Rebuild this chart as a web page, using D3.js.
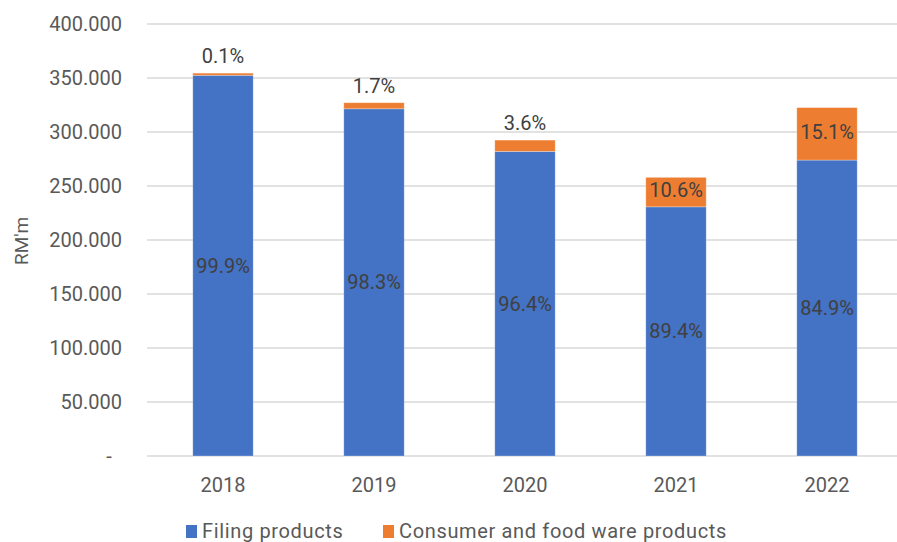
<!DOCTYPE html>
<html>
<head>
<meta charset="utf-8">
<script src="https://cdn.jsdelivr.net/npm/d3@7"></script>
<style>
  body { margin: 0; background: #fff; }
  text { font-family: Roboto, "Liberation Sans", Arial, sans-serif; }
</style>
</head>
<body>
<svg width="897" height="542"></svg>
<script>
// chart data
var years = ["2018", "2019", "2020", "2021", "2022"];
var filing = [352.5, 321.5, 282.0, 230.7, 274.0];
var consumer = [2.0, 5.6, 10.5, 27.3, 48.6];
var filingPct = ["99.9%", "98.3%", "96.4%", "89.4%", "84.9%"];
var consumerPct = ["0.1%", "1.7%", "3.6%", "10.6%", "15.1%"];
var yTicks = [0, 50, 100, 150, 200, 250, 300, 350, 400];
var seriesNames = ["Filing products", "Consumer and food ware products"];
var colors = ["#4472C4", "#ED7D31"];

var svg = d3.select("svg"),
    width = +svg.attr("width"),
    height = +svg.attr("height");

var x = d3.scaleBand()
    .domain(years)
    .range([147.5, 902.5])
    .paddingInner(0.6)
    .paddingOuter(0.3);

var y = d3.scaleLinear()
    .domain([0, 400])
    .range([456, 24]);

// gridlines
svg.append("g")
    .selectAll("line")
    .data(yTicks)
    .enter().append("line")
    .attr("x1", 147)
    .attr("x2", width)
    .attr("y1", function(d) { return y(d); })
    .attr("y2", function(d) { return y(d); })
    .attr("stroke", "#d9d9d9")
    .attr("stroke-width", 1.5);

// y tick labels
svg.append("g")
    .selectAll("text")
    .data(yTicks)
    .enter().append("text")
    .attr("x", function(d) { return d == 0 ? 109 : 122; })
    .attr("y", function(d) { return y(d); })
    .attr("dy", "0.35em")
    .attr("text-anchor", function(d) { return d == 0 ? "middle" : "end"; })
    .attr("fill", "#595959")
    .style("font-size", "20px")
    .text(function(d) { return d == 0 ? "-" : d3.format(".3f")(d); });

// y axis title
svg.append("text")
    .attr("transform", "translate(28,241) rotate(-90)")
    .attr("text-anchor", "middle")
    .attr("fill", "#595959")
    .style("font-size", "19px")
    .text("RM'm");

// stacked bars
var rows = years.map(function(yr, i) {
  return { year: yr, filing: filing[i], consumer: consumer[i] };
});
var stack = d3.stack().keys(["filing", "consumer"])(rows);

var layer = svg.append("g")
    .selectAll("g")
    .data(stack)
    .enter().append("g")
    .attr("fill", function(d, i) { return colors[i]; });

layer.selectAll("rect")
    .data(function(d) { return d; })
    .enter().append("rect")
    .attr("x", function(d) { return x(d.data.year); })
    .attr("width", x.bandwidth())
    .attr("y", function(d) { return y(d[1]); })
    .attr("height", function(d) { return y(d[0]) - y(d[1]); })
    .attr("stroke", "rgba(255,255,255,0.35)")
    .attr("stroke-width", 0.8);

// labels in the blue segments
svg.append("g")
    .selectAll("text")
    .data(stack[0])
    .enter().append("text")
    .attr("x", function(d) { return x(d.data.year) + x.bandwidth() / 2; })
    .attr("y", function(d) { return (y(d[0]) + y(d[1])) / 2; })
    .attr("dy", "0.35em")
    .attr("text-anchor", "middle")
    .attr("fill", "#404040")
    .style("font-size", "20px")
    .text(function(d, i) { return filingPct[i]; });

// labels for the orange segments: above the bar when the slice is too thin
svg.append("g")
    .selectAll("text")
    .data(stack[1])
    .enter().append("text")
    .attr("x", function(d) { return x(d.data.year) + x.bandwidth() / 2; })
    .attr("y", function(d) {
      var h = y(d[0]) - y(d[1]);
      if (h < 20) return y(d[1]) - 17;
      return (y(d[0]) + y(d[1])) / 2 - 2;
    })
    .attr("dy", "0.35em")
    .attr("text-anchor", "middle")
    .attr("fill", "#404040")
    .style("font-size", "20px")
    .text(function(d, i) { return consumerPct[i]; });

// x labels
svg.append("g")
    .selectAll("text")
    .data(years)
    .enter().append("text")
    .attr("x", function(d) { return x(d) + x.bandwidth() / 2; })
    .attr("y", 492)
    .attr("text-anchor", "middle")
    .attr("fill", "#595959")
    .style("font-size", "20px")
    .text(function(d) { return d; });

// legend
var legendX = [186, 383];
var legend = svg.append("g")
    .selectAll("g")
    .data(seriesNames)
    .enter().append("g")
    .attr("transform", function(d, i) { return "translate(" + legendX[i] + ",525)"; });

legend.append("rect")
    .attr("width", 11)
    .attr("height", 13)
    .attr("fill", function(d, i) { return colors[i]; });

legend.append("text")
    .attr("x", 16)
    .attr("y", 13)
    .attr("fill", "#595959")
    .style("font-size", "20px")
    .style("letter-spacing", "0.65px")
    .text(function(d) { return d; });
</script>
</body>
</html>
